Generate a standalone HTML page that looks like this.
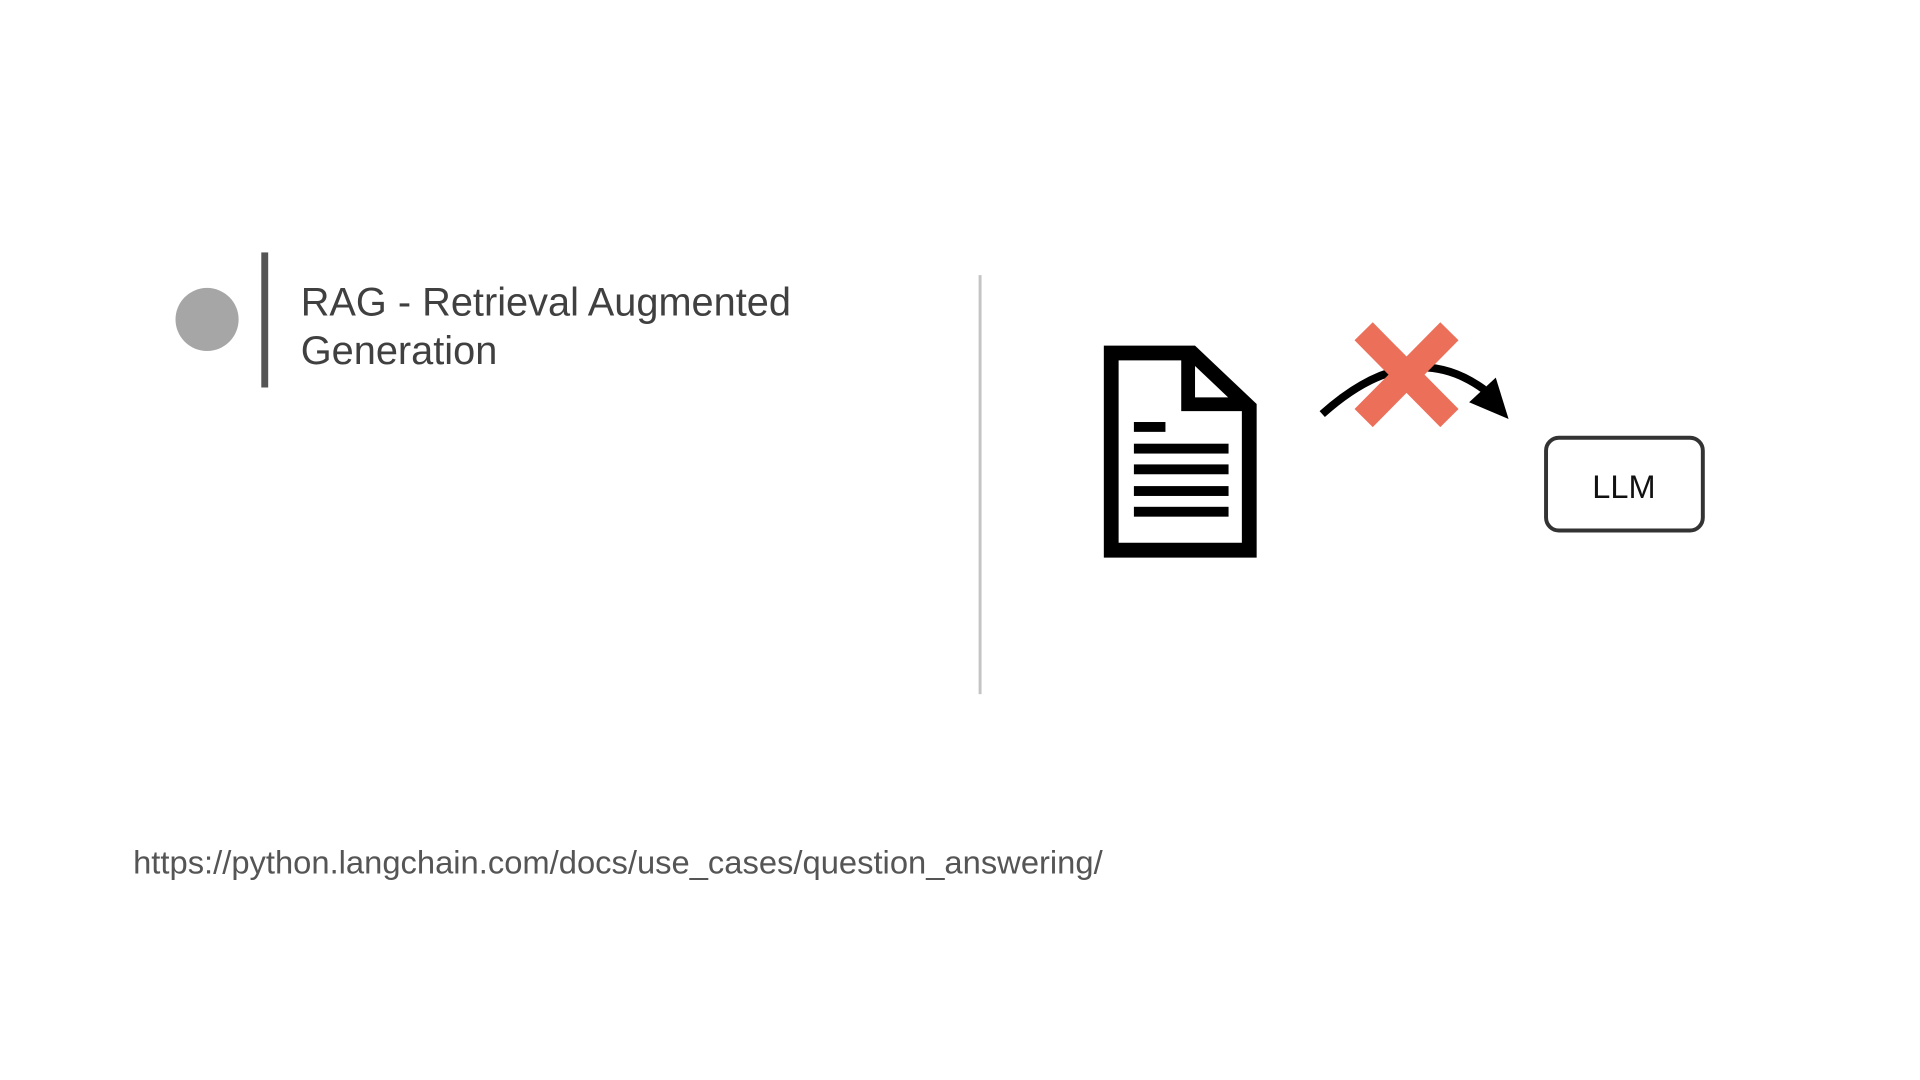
<!DOCTYPE html>
<html><head><meta charset="utf-8"><style>
html,body{margin:0;padding:0;background:#fff;}
body{width:1920px;height:1080px;position:relative;overflow:hidden;font-family:"Liberation Sans",Arial,sans-serif;}
#w{position:absolute;left:0;top:0;width:1920px;height:1080px;transform:scale(0.986);transform-origin:0 0;}
.t{position:absolute;white-space:nowrap;}
</style></head><body><div id="w">
<svg width="1920" height="1080" style="position:absolute;left:0;top:0">
<circle cx="210" cy="324" r="32" fill="#a6a6a6"/>
<rect x="265" y="256" width="7" height="137" fill="#555"/>
<rect x="992.5" y="279" width="3" height="425" fill="#c4c4c4"/>
<path d="M1127 358 H1209 L1267 413 V558 H1127 Z" fill="none" stroke="#000" stroke-width="15" stroke-linejoin="miter"/>
<path d="M1205 358 V410 H1267" fill="none" stroke="#000" stroke-width="14"/>
<rect x="1150" y="428" width="32" height="10" fill="#000"/>
<rect x="1150" y="450" width="96" height="10" fill="#000"/>
<rect x="1150" y="471" width="96" height="10" fill="#000"/>
<rect x="1150" y="493" width="96" height="10" fill="#000"/>
<rect x="1150" y="514" width="96" height="10" fill="#000"/>
<path d="M1341 420 Q1430 340 1505 395" fill="none" stroke="#000" stroke-width="8"/>
<polygon points="1530,425 1517,383 1490,408" fill="#000"/>
<g stroke="#ec6f5a" stroke-width="26">
<line x1="1383" y1="336" x2="1470" y2="424"/>
<line x1="1470" y1="336" x2="1383" y2="424"/>
</g>
<rect x="1568" y="444" width="159" height="94" rx="13" fill="#fff" stroke="#333" stroke-width="4"/>
<text x="1647" y="505" font-family="Liberation Sans,Arial,sans-serif" font-size="33" fill="#111" text-anchor="middle">LLM</text>
</svg>
<div class="t" style="left:305px;top:282px;font-size:40.3px;line-height:49px;color:#404040">RAG - Retrieval Augmented<br>Generation</div>
<div class="t" style="left:135px;top:857px;font-size:33.2px;color:#555">https://python.langchain.com/docs/use_cases/question_answering/</div>
</div></body></html>
